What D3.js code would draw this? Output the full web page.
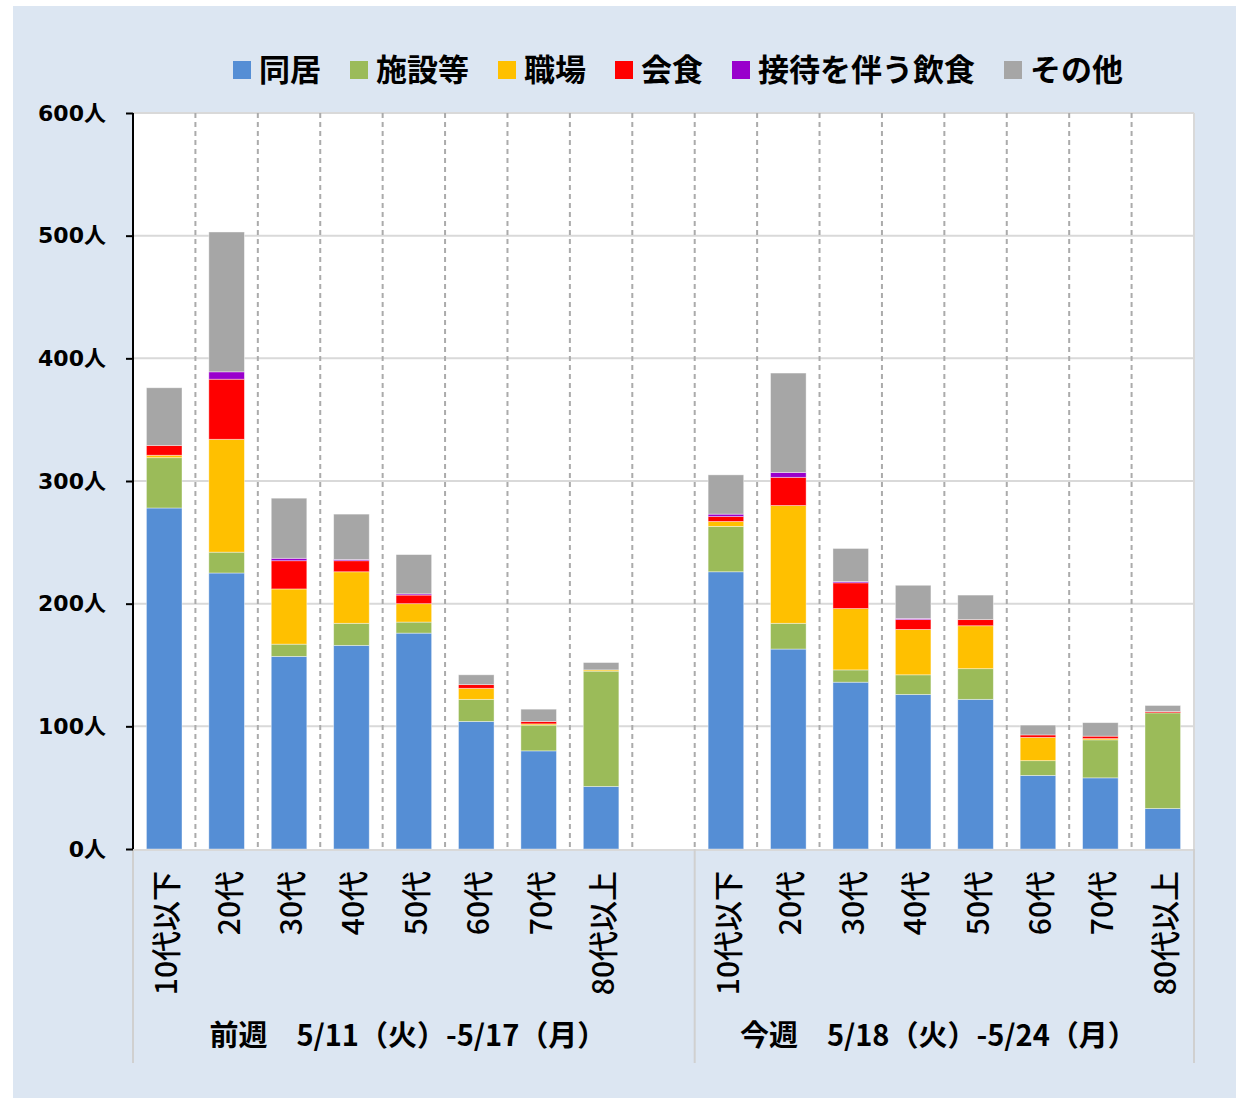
<!DOCTYPE html>
<meta charset="utf-8">
<style>
  body { margin: 0; background: #fff; }
  text { font-family: "Noto Sans CJK JP", sans-serif; }
</style>
<script src="https://d3js.org/d3.v7.min.js"></script>
<body>
<script>

  // categories and groups
  var ages = ["10代以下", "20代", "30代", "40代", "50代", "60代", "70代", "80代以上"];
  var weeks = ["前週　5/11（火）-5/17（月）", "今週　5/18（火）-5/24（月）"];
  var seriesNames = ["同居", "施設等", "職場", "会食", "接待を伴う飲食", "その他"];
  var colors = ["#558ed5", "#9bbb59", "#ffc000", "#ff0000", "#9900cc", "#a6a6a6"];
  var yTicks = [0, 100, 200, 300, 400, 500, 600];

  // values: first 8 = 前週, last 8 = 今週
  var doukyo  = [278, 225, 157, 166, 176, 104, 80, 51,  226, 163, 136, 126, 122, 60, 58, 33];
  var shisetsu = [41, 17, 10, 18, 9, 18, 21, 94,        37, 21, 10, 16, 25, 12, 31, 78];
  var shokuba = [2, 92, 45, 42, 15, 9, 1, 1,            4, 96, 50, 37, 35, 19, 1, 0];
  var kaishoku = [8, 49, 23, 9, 7, 3, 2, 0,             4, 23, 21, 8, 5, 2, 2, 1];
  var settai  = [0, 6, 2, 1, 1, 0, 0, 0,                2, 4, 1, 1, 0, 0, 0, 0];
  var sonota  = [47, 114, 49, 37, 32, 8, 10, 6,         32, 81, 27, 27, 20, 8, 11, 5];

  var seriesValues = [doukyo, shisetsu, shokuba, kaishoku, settai, sonota];

  // build rows for the stack
  var rows = [];
  weeks.forEach(function (w, wi) {
    ages.forEach(function (a, ai) {
      var row = { key: wi + "-" + ai, age: a, week: wi };
      seriesNames.forEach(function (s, si) { row[s] = seriesValues[si][wi * 8 + ai]; });
      rows.push(row);
    });
  });

  var keys = [];
  ages.forEach(function (a, i) { keys.push("0-" + i) });
  keys.push("gap");
  ages.forEach(function (a, i) { keys.push("1-" + i) });

  var W = 1236, H = 1098;
  var plotL = 133, plotR = 1194, plotT = 113, plotB = 849;

  var svg = d3.select("body").append("svg")
    .attr("width", W)
    .attr("height", H);

  // outer background
  svg.append("rect")
    .attr("x", 13).attr("y", 6)
    .attr("width", W - 13).attr("height", H - 6)
    .attr("fill", "#dce6f2");

  // plot area
  svg.append("rect")
    .attr("x", plotL).attr("y", plotT)
    .attr("width", plotR - plotL).attr("height", plotB - plotT)
    .attr("fill", "#ffffff");

  var x = d3.scaleBand()
    .domain(keys)
    .range([plotL, plotR])
    .padding(0);

  var y = d3.scaleLinear()
    .domain([0, 600])
    .range([plotB, plotT]);

  // horizontal gridlines
  svg.append("g")
    .selectAll("line")
    .data(yTicks.filter(function (d) { return d > 0 }))
    .enter()
    .append("line")
    .attr("x1", plotL).attr("x2", plotR)
    .attr("y1", function (d) { return y(d) })
    .attr("y2", function (d) { return y(d) })
    .attr("stroke", "#d9d9d9")
    .attr("stroke-width", 2);

  // vertical dashed separators between categories
  svg.append("g")
    .selectAll("line")
    .data(keys.slice(1))
    .enter()
    .append("line")
    .attr("x1", function (d) { return x(d) })
    .attr("x2", function (d) { return x(d) })
    .attr("y1", plotT).attr("y2", plotB)
    .attr("stroke", "#ababab")
    .attr("stroke-width", 2)
    .attr("stroke-dasharray", "5,4");

  // right border
  svg.append("line")
    .attr("x1", plotR).attr("x2", plotR)
    .attr("y1", plotT).attr("y2", plotB)
    .attr("stroke", "#d9d9d9")
    .attr("stroke-width", 2);

  // stacked bars
  var stack = d3.stack().keys(seriesNames);
  var stacked = stack(rows);
  var barW = x.bandwidth() * 0.57;

  svg.append("g")
    .selectAll("g")
    .data(stacked)
    .enter()
    .append("g")
    .attr("fill", function (d, i) { return colors[i] })
    .selectAll("rect")
    .data(function (d) { return d })
    .enter()
    .append("rect")
    .attr("x", function (d) { return x(d.data.key) + (x.bandwidth() - barW) / 2 })
    .attr("width", barW)
    .attr("y", function (d) { return y(d[1]) })
    .attr("height", function (d) { return y(d[0]) - y(d[1]) })
    .attr("stroke", "#ffffff")
    .attr("stroke-opacity", 0.5)
    .attr("stroke-width", 0.8);

  // category axis line and group separators
  svg.append("line")
    .attr("x1", plotL).attr("x2", plotR)
    .attr("y1", plotB + 1).attr("y2", plotB + 1)
    .attr("stroke", "#d9d9d9")
    .attr("stroke-width", 2);

  svg.append("g")
    .selectAll("line")
    .data([plotL, x("1-0"), plotR])
    .enter()
    .append("line")
    .attr("x1", function (d) { return d })
    .attr("x2", function (d) { return d })
    .attr("y1", plotB).attr("y2", 1063)
    .attr("stroke", "#d0d0d0")
    .attr("stroke-width", 2);

  // y axis
  var yAxis = svg.append("g")
    .attr("transform", "translate(" + plotL + ",0)")
    .call(d3.axisLeft(y)
      .tickValues(yTicks)
      .tickSize(7)
      .tickPadding(20)
      .tickFormat(function (d) { return d + "人" }));

  yAxis.select(".domain")
    .attr("d", "M0," + plotT + "V" + plotB)
    .attr("stroke", "#000")
    .attr("stroke-width", 2);
  yAxis.selectAll(".tick line").attr("stroke", "#000").attr("stroke-width", 2);
  yAxis.selectAll(".tick text")
    .style("font-family", "'DejaVu Sans', 'Noto Sans CJK JP', sans-serif")
    .style("font-size", "22px")
    .style("font-weight", "bold")
    .attr("fill", "#000");

  // category labels (rotated)
  svg.append("g")
    .selectAll("text")
    .data(rows)
    .enter()
    .append("text")
    .attr("transform", function (d) {
      return "translate(" + (x(d.key) + x.bandwidth() / 2) + "," + (plotB + 22) + ") rotate(-90)";
    })
    .attr("text-anchor", "end")
    .attr("dominant-baseline", "central")
    .style("font-size", "30px")
    .style("font-weight", "500")
    .attr("fill", "#000")
    .text(function (d) { return d.age });

  // group labels
  var groupSpans = [[plotL, x("1-0")], [x("1-0"), plotR]];
  svg.append("g")
    .selectAll("text")
    .data(weeks)
    .enter()
    .append("text")
    .attr("x", function (d, i) { return (groupSpans[i][0] + groupSpans[i][1]) / 2 - 6 })
    .attr("y", 1046)
    .attr("text-anchor", "middle")
    .style("font-size", "29px")
    .style("font-weight", "bold")
    .attr("fill", "#000")
    .text(function (d) { return d });

  // legend
  var legend = svg.append("g").attr("transform", "translate(0,70)");
  var items = legend.selectAll("g")
    .data(seriesNames)
    .enter()
    .append("g");

  items.append("rect")
    .attr("width", 18).attr("height", 18)
    .attr("y", -9)
    .attr("fill", function (d, i) { return colors[i] });

  items.append("text")
    .attr("x", 26)
    .attr("dy", "0.36em")
    .style("font-size", "31px")
    .style("font-weight", "bold")
    .attr("fill", "#000")
    .text(function (d) { return d });

  var pos = 0, offsets = [];
  items.each(function () {
    offsets.push(pos);
    var tw = d3.select(this).select("text").node().getComputedTextLength();
    pos += 26 + tw + 29;
  });
  var totalW = pos - 29;
  var startX = 678 - totalW / 2;
  items.attr("transform", function (d, i) { return "translate(" + (startX + offsets[i]) + ",0)" });

</script>
</body>
